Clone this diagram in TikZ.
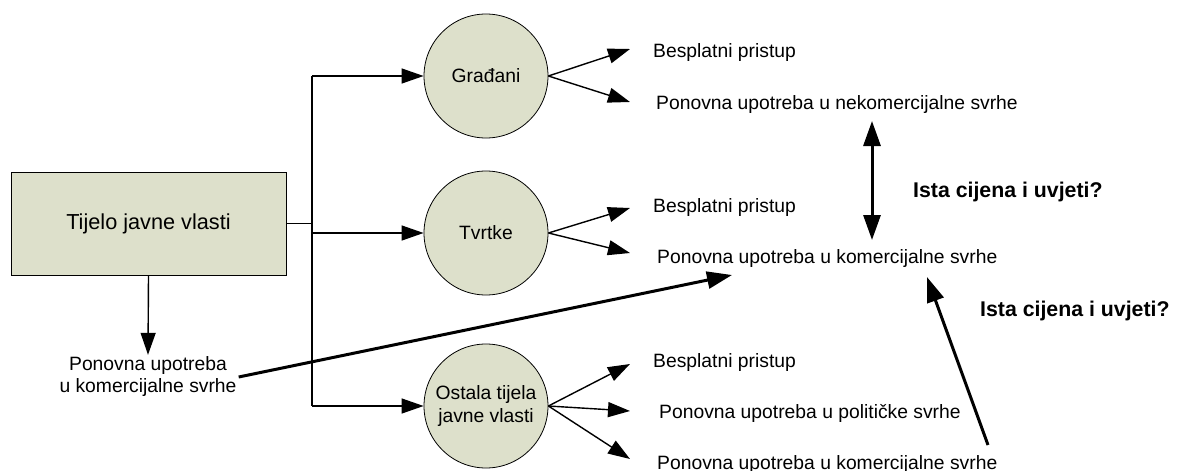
\documentclass[tikz,border=0pt]{standalone}
\usepackage{fontspec}
\setmainfont{Liberation Sans}
\usetikzlibrary{arrows.meta,calc}
\definecolor{boxfill}{RGB}{221,224,203}
\tikzset{
  line/.style={draw=black, line width=1.4pt},
  arr/.style={line, -{Triangle[length=22pt,width=15pt]}},
  thick arr/.style={draw=black, line width=3pt, -{Triangle[length=25pt,width=17pt]}},
  dbl arr/.style={draw=black, line width=3pt, {Triangle[length=25pt,width=17pt]}-{Triangle[length=25pt,width=17pt]}},
  party/.style={circle, draw=black, line width=0.8pt, fill=boxfill, minimum size=124pt, inner sep=0pt, align=center, font=\fontsize{19.3}{23}\selectfont},
  body/.style={rectangle, draw=black, line width=0.8pt, fill=boxfill, minimum width=275pt, minimum height=103pt, font=\fontsize{21.7}{26}\selectfont},
  use/.style={anchor=base west, inner sep=0pt, font=\fontsize{19.3}{23}\selectfont},
  note/.style={anchor=base west, inner sep=0pt, font=\bfseries\fontsize{21.3}{25}\selectfont},
}
\begin{document}
\begin{tikzpicture}[x=1pt, y=-1pt]
\useasboundingbox (0,0) rectangle (1184,471);

% public body and its own re-use
\node[body] (tjelo) at (148.5,223.5) {Tijelo javne vlasti};
\node[align=center, inner sep=2pt, font=\fontsize{19.3}{22}\selectfont] (vlastita) at (148,377) {Ponovna upotreba\\u komercijalne svrhe};
\draw[arr] (tjelo.south) -- (vlastita.north);

% user groups
\node[party] (gradani) at (486,76) {Građani};
\node[party] (tvrtke) at (486,233) {Tvrtke};
\node[party] (ostala) at (486,406) {Ostala tijela\\javne vlasti};

% distribution bus
\coordinate (bus) at (312,223.5);
\draw[line] (tjelo.east) -- (bus);
\draw[line] (bus |- gradani.west) -- (bus |- ostala.west);
\draw[arr] (bus |- gradani.west) -- (gradani.west);
\draw[arr] (bus |- tvrtke.west) -- (tvrtke.west);
\draw[arr] (bus |- ostala.west) -- (ostala.west);

% kinds of use (placed on their baselines)
\node[use] (g1) at (653,57) {Besplatni pristup};
\node[use] (g2) at (656,109) {Ponovna upotreba u nekomercijalne svrhe};
\node[use] (t1) at (653,212) {Besplatni pristup};
\node[use] (t2) at (657,263) {Ponovna upotreba u komercijalne svrhe};
\node[use] (o1) at (653,367) {Besplatni pristup};
\node[use] (o2) at (659,418) {Ponovna upotreba u političke svrhe};
\node[use] (o3) at (657,469) {Ponovna upotreba u komercijalne svrhe};

\draw[arr] (gradani.east) -- ($(g1.base west)+(-23,-8)$);
\draw[arr] (gradani.east) -- ($(g2.base west)+(-26,-7)$);
\draw[arr] (tvrtke.east) -- ($(t1.base west)+(-23,-4)$);
\draw[arr] (tvrtke.east) -- ($(t2.base west)+(-27,-10)$);
\draw[arr] (ostala.east) -- ($(o1.base west)+(-23,-3)$);
\draw[arr] (ostala.east) -- ($(o2.base west)+(-29,-7)$);
\draw[arr] (ostala.east) -- ($(o3.base west)+(-27,-10)$);

% comparisons
\coordinate (cmpA) at ($(t2.base west)+(75,12)$);
\coordinate (cmpTop) at ($(g2.base west)+(216,12)$);
\coordinate (cmpBot) at ($(t2.base west)+(215,-23)$);
\coordinate (cmpB) at ($(t2.base west)+(270,14)$);
\coordinate (cmpBstart) at ($(o3.base west)+(331,-24)$);
\draw[thick arr] (vlastita.east) -- (cmpA);
\draw[dbl arr] (cmpTop) -- (cmpBot);
\draw[thick arr] (cmpBstart) -- (cmpB);

\node[note] (q1) at (913,197) {Ista cijena i uvjeti?};
\node[note] (q2) at (980,316) {Ista cijena i uvjeti?};
\end{tikzpicture}
\end{document}
